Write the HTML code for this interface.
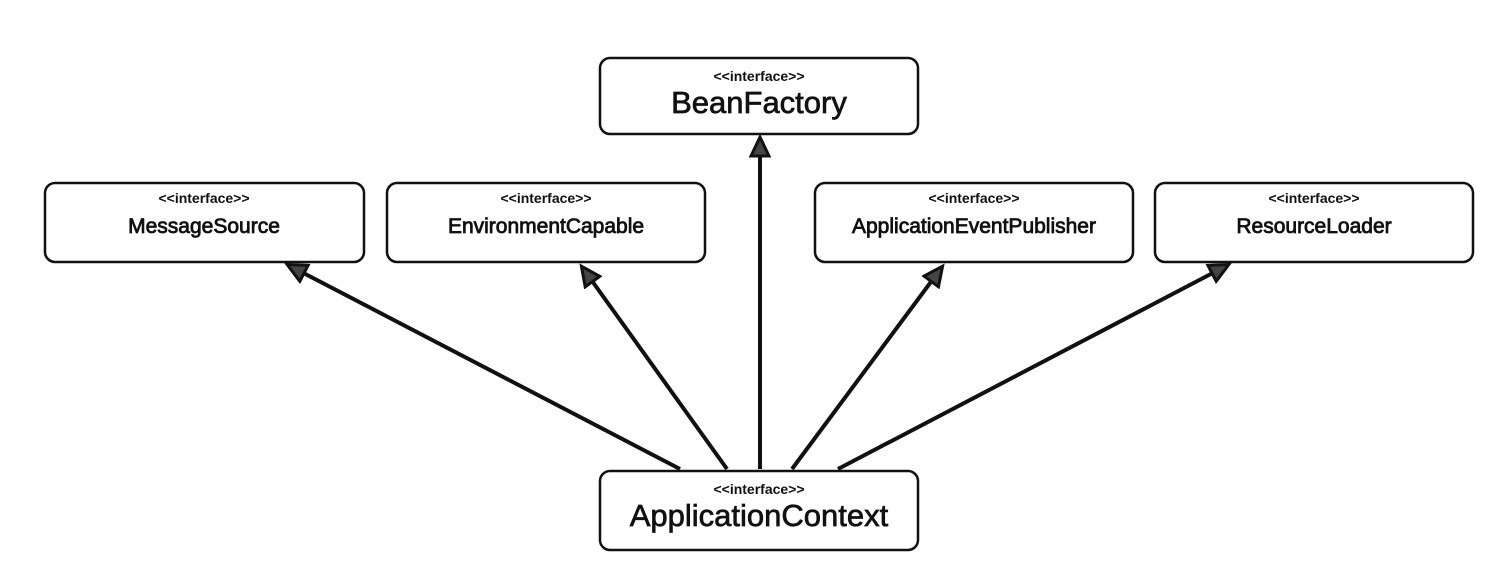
<!DOCTYPE html>
<html><head><style>
body{margin:0;background:#fff;width:1510px;height:580px;overflow:hidden;font-family:"Liberation Sans",sans-serif}
</style></head><body>
<svg width="1510" height="580" xmlns="http://www.w3.org/2000/svg" font-family="Liberation Sans, sans-serif">
<defs>
<marker id="a" markerWidth="24" markerHeight="22" refX="20" refY="11" orient="auto" markerUnits="userSpaceOnUse">
<path d="M2,2 L21,11 L2,20 Z" fill="#444" stroke="#111" stroke-width="3"/>
</marker>
</defs>
<g fill="#fff" stroke="#111" stroke-width="2.5">
<rect x="600" y="58" width="318" height="76" rx="10"/>
<rect x="600" y="471" width="318" height="79" rx="10"/>
<rect x="45" y="183" width="319" height="79" rx="10"/>
<rect x="387" y="183" width="318" height="79" rx="10"/>
<rect x="815" y="183" width="318" height="79" rx="10"/>
<rect x="1155" y="183" width="318" height="79" rx="10"/>
</g>
<g stroke="#111" stroke-width="4" marker-end="url(#a)">
<line x1="680" y1="469" x2="288" y2="265"/>
<line x1="727" y1="469" x2="582" y2="267"/>
<line x1="760" y1="469" x2="760" y2="138"/>
<line x1="792" y1="469" x2="942" y2="267"/>
<line x1="838" y1="469" x2="1228" y2="265"/>
</g>
<g text-anchor="middle" fill="#111">
<g font-size="14" font-weight="bold">
<text x="759" y="81">&lt;&lt;interface&gt;&gt;</text>
<text x="759" y="494">&lt;&lt;interface&gt;&gt;</text>
<text x="204" y="203">&lt;&lt;interface&gt;&gt;</text>
<text x="546" y="203">&lt;&lt;interface&gt;&gt;</text>
<text x="974" y="203">&lt;&lt;interface&gt;&gt;</text>
<text x="1314" y="203">&lt;&lt;interface&gt;&gt;</text>
</g>
<g font-size="31" stroke="#111" stroke-width="0.7">
<text x="759" y="113">BeanFactory</text>
<text x="759" y="526">ApplicationContext</text>
</g>
<g font-size="21" stroke="#111" stroke-width="0.8">
<text x="204" y="233">MessageSource</text>
<text x="546" y="233">EnvironmentCapable</text>
<text x="974" y="233">ApplicationEventPublisher</text>
<text x="1314" y="233">ResourceLoader</text>
</g>
</g>
</svg>
</body></html>
